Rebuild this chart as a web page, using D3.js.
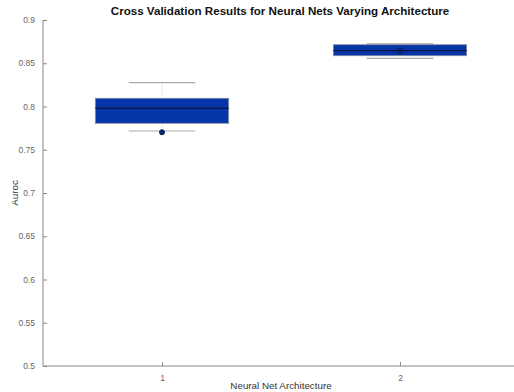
<!DOCTYPE html>
<html>
<head>
<meta charset="utf-8">
<script src="https://cdn.jsdelivr.net/npm/d3@7"></script>
<style>
  body { margin: 0; background: #fff; }
  text { font-family: "Liberation Sans", Arial, sans-serif; }
</style>
</head>
<body>
<div id="chart"></div>
<script>
// data
let categories = [1, 2]
let q1 = [0.7806, 0.8587]
let medians = [0.7979, 0.8645]
let q3 = [0.8095, 0.8714]
let whiskerLow = [0.7717, 0.8557]
let whiskerHigh = [0.8275, 0.8723]
let markers = [0.7702, 0.8645]
let markerFilled = [true, false]
let yTicks = [0.5, 0.55, 0.6, 0.65, 0.7, 0.75, 0.8, 0.85, 0.9]

let width = 514,
    height = 392,
    margin = {top: 20, right: 0, bottom: 26, left: 43}

let x = d3.scaleLinear()
    .domain([0.5, 2.5])
    .range([margin.left, margin.left + 476])
let y = d3.scaleLinear()
    .domain([0.5, 0.9])
    .range([height - margin.bottom, margin.top])

let boxHalf = 0.28,
    capHalf = 0.14

let svg = d3.select("#chart").append("svg")
    .attr("width", width)
    .attr("height", height)

let boxes = categories.map(function(c, i) {
  return {cat: c, q1: q1[i], med: medians[i], q3: q3[i],
          lo: whiskerLow[i], hi: whiskerHigh[i],
          mark: markers[i], filled: markerFilled[i]}
})

let g = svg.selectAll(".box")
    .data(boxes).enter()
      .append("g")
        .classed("box", true)

// whisker stems (dotted)
g.append("line")
    .attr("x1", function(d) { return x(d.cat) })
    .attr("x2", function(d) { return x(d.cat) })
    .attr("y1", function(d) { return y(d.hi) })
    .attr("y2", function(d) { return y(d.q3) })
    .style("stroke", "#bbb")
    .style("stroke-dasharray", "1,2")
g.append("line")
    .attr("x1", function(d) { return x(d.cat) })
    .attr("x2", function(d) { return x(d.cat) })
    .attr("y1", function(d) { return y(d.q1) })
    .attr("y2", function(d) { return y(d.lo) })
    .style("stroke", "#bbb")
    .style("stroke-dasharray", "1,2")

// caps
g.selectAll(".cap")
    .data(function(d) { return [{cat: d.cat, v: d.hi}, {cat: d.cat, v: d.lo}] })
    .enter().append("line")
      .classed("cap", true)
      .attr("x1", function(d) { return x(d.cat - capHalf) })
      .attr("x2", function(d) { return x(d.cat + capHalf) })
      .attr("y1", function(d) { return y(d.v) })
      .attr("y2", function(d) { return y(d.v) })
      .style("stroke", "#aaa")
      .style("stroke-width", 1.2)

// boxes
g.append("rect")
    .attr("x", function(d) { return x(d.cat - boxHalf) })
    .attr("width", function(d) { return x(d.cat + boxHalf) - x(d.cat - boxHalf) })
    .attr("y", function(d) { return y(d.q3) })
    .attr("height", function(d) { return y(d.q1) - y(d.q3) })
    .style("fill", "#0535a8")
    .style("stroke", "#8a8a9a")
    .style("stroke-width", 0.8)

// medians
g.append("line")
    .attr("x1", function(d) { return x(d.cat - boxHalf) })
    .attr("x2", function(d) { return x(d.cat + boxHalf) })
    .attr("y1", function(d) { return y(d.med) })
    .attr("y2", function(d) { return y(d.med) })
    .style("stroke", "#0a1440")
    .style("stroke-width", 1.3)

// markers
g.append("circle")
    .attr("cx", function(d) { return x(d.cat) })
    .attr("cy", function(d) { return y(d.mark) })
    .attr("r", 2.5)
    .style("fill", function(d) { return d.filled ? "#0c2a78" : "none" })
    .style("stroke", "#0a1a50")
    .style("stroke-width", 1)

// axes
let yAxis = d3.axisLeft(y)
    .tickValues(yTicks)
    .tickSize(-4)
    .tickPadding(8)
    .tickFormat(function(d) { return d3.format("")(+d.toFixed(2)) })
let xAxis = d3.axisBottom(x)
    .tickValues(categories)
    .tickSize(-4)
    .tickPadding(9)
    .tickFormat(d3.format("d"))

let ya = svg.append("g")
    .attr("transform", "translate(" + margin.left + ",0)")
    .call(yAxis)
let xa = svg.append("g")
    .attr("transform", "translate(0," + (height - margin.bottom) + ")")
    .call(xAxis)

;[ya, xa].forEach(function(a) {
  a.select(".domain").style("stroke", "#888").attr("d", null)
  a.selectAll(".tick line").style("stroke", "#888")
  a.selectAll(".tick text").style("fill", "#666").style("font-size", "8.5px")
})
ya.select(".domain").attr("d", "M0," + y(0.9) + "V" + y(0.5))
xa.select(".domain").attr("d", "M" + margin.left + ",0H" + width)

// labels
svg.append("text")
    .attr("x", 280)
    .attr("y", 15)
    .attr("text-anchor", "middle")
    .style("font-size", "11.6px")
    .style("font-weight", "bold")
    .style("fill", "#111")
    .text("Cross Validation Results for Neural Nets Varying Architecture")
svg.append("text")
    .attr("x", 281)
    .attr("y", 389)
    .attr("text-anchor", "middle")
    .style("font-size", "9.8px")
    .style("fill", "#333")
    .text("Neural Net Architecture")
svg.append("text")
    .attr("transform", "translate(18," + 193 + ") rotate(-90)")
    .attr("text-anchor", "middle")
    .style("font-size", "9.8px")
    .style("fill", "#333")
    .text("Auroc")
</script>
</body>
</html>
